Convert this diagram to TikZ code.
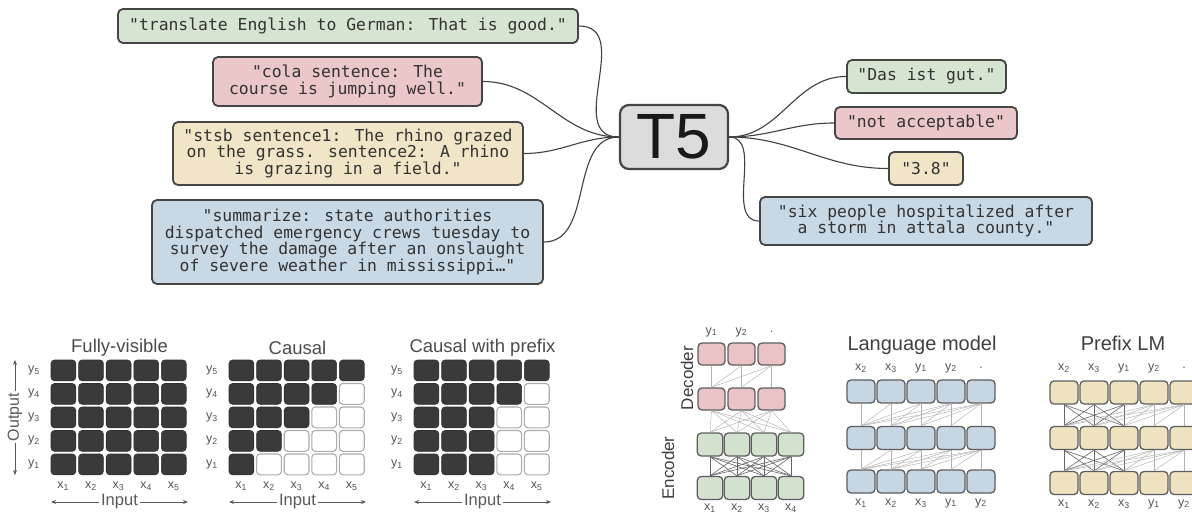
\documentclass[tikz,border=0pt]{standalone}
\usepackage{fontspec}
\setmainfont{Liberation Sans}
\newfontfamily\monof{DejaVu Sans Mono}
\usetikzlibrary{arrows.meta}
\definecolor{bline}{HTML}{454545}
\definecolor{tgreen}{HTML}{D6E4D2}
\definecolor{tpink}{HTML}{EBC7C9}
\definecolor{tyellow}{HTML}{F0E5C6}
\definecolor{tblue}{HTML}{C9D8E5}
\definecolor{tgray}{HTML}{DCDCDC}
\definecolor{txt}{HTML}{333333}
\definecolor{dcell}{HTML}{3A3A3A}
\definecolor{lbl}{HTML}{555555}
\definecolor{abline}{HTML}{5E5E5E}
\definecolor{agreen}{HTML}{D3E2CF}
\definecolor{apink}{HTML}{E9C3C6}
\definecolor{ablue}{HTML}{C8D6E3}
\definecolor{ayellow}{HTML}{EEE2C0}
\begin{document}
\begin{tikzpicture}[x=1pt,y=-1pt,
  tbox/.style={draw=bline, line width=1.8pt, rounded corners=5pt, text=txt, align=center, inner sep=0pt,
    font=\monof\fontsize{16.4}{16.8}\selectfont},
  conn/.style={draw=black!75, line width=1.1pt},
  wcell/.style={draw=gray!65, fill=white, line width=1.1pt, rounded corners=3.5pt},
  dcellst/.style={fill=dcell, draw=dcell!80!black, line width=0.6pt, rounded corners=3.5pt},
  lab/.style={text=lbl, font=\fontsize{12.5}{12.5}\selectfont, inner sep=0pt},
  ttl/.style={text=black!70, font=\fontsize{18.5}{18.5}\selectfont, inner sep=0pt},
  ttlb/.style={text=black!75, font=\fontsize{20}{20}\selectfont, inner sep=0pt},
  dblarr/.style={{Stealth[length=5pt,width=4pt]}-{Stealth[length=5pt,width=4pt]}, draw=black!65, line width=0.9pt},
  archbox/.style={draw=abline, line width=1.3pt, rounded corners=4pt, minimum width=27pt, minimum height=22pt, inner sep=0pt},
  attn/.style={draw=gray!60, line width=0.45pt},
  attnd/.style={draw=black!60, line width=0.6pt}
]
\useasboundingbox (0,0) rectangle (1192,516);
\fill[white] (0,0) rectangle (1192,516);

% ---------------- top: T5 task diagram ----------------
\node[tbox, fill=tgreen, minimum width=460pt, minimum height=34pt] (in1) at (348,26)
  {"translate English to German: That is good."};
\node[tbox, fill=tpink, minimum width=269pt, minimum height=49pt] (in2) at (347.5,81.5)
  {"cola sentence: The\\course is jumping well."};
\node[tbox, fill=tyellow, minimum width=350pt, minimum height=63pt] (in3) at (348,153.5)
  {"stsb sentence1: The rhino grazed\\on the grass. sentence2: A rhino\\is grazing in a field."};
\node[tbox, fill=tblue, minimum width=391pt, minimum height=84pt] (in4) at (347.5,242)
  {"summarize: state authorities\\dispatched emergency crews tuesday to\\survey the damage after an onslaught\\of severe weather in mississippi…"};

\node[tbox, fill=tgreen, minimum width=159pt, minimum height=33pt] (out1) at (926.5,76.5) {"Das ist gut."};
\node[tbox, fill=tpink, minimum width=182pt, minimum height=32pt] (out2) at (926,123) {"not acceptable"};
\node[tbox, fill=tyellow, minimum width=74pt, minimum height=33pt] (out3) at (926,168.5) {"3.8"};
\node[tbox, fill=tblue, minimum width=332pt, minimum height=48pt] (out4) at (926,221)
  {"six people hospitalized after\\a storm in attala county."};

\node[tbox, fill=tgray, minimum width=108pt, minimum height=64pt, rounded corners=9pt, line width=2.2pt,
  font=\fontsize{64}{64}\selectfont, text=black!90] (t5) at (674,137) {T5};

\draw[conn] (in1.east) to[out=0,in=180,looseness=1.2] (t5.west);
\draw[conn] (in2.east) to[out=0,in=180] (t5.west);
\draw[conn] (in3.east) to[out=0,in=180] (t5.west);
\draw[conn] (in4.east) to[out=0,in=180] (t5.west);
\draw[conn] (t5.east) to[out=0,in=180] (out1.west);
\draw[conn] (t5.east) to[out=0,in=180] (out2.west);
\draw[conn] (t5.east) to[out=0,in=180] (out3.west);
\draw[conn] (t5.east) to[out=0,in=180] (out4.west);

% ---------------- bottom left: attention masks ----------------
\foreach \xo/\mn [count=\m] in {51/5,229/1,414/3}{
  \foreach \r in {1,...,5}{
    \pgfmathtruncatemacro\nd{max(6-\r,\mn)}
    \pgfmathtruncatemacro\k{6-\r}
    \pgfmathsetmacro\cy{360+(\r-1)*23.5}
    \node[lab] (m\m y\k) at ({\xo-17},{\cy+10.25}) {y\textsubscript{\k}};
    \foreach \c in {1,...,5}{
      \pgfmathsetmacro\cx{\xo+(\c-1)*27.6}
      \ifnum\c>\nd\relax
        \draw[wcell] (\cx,\cy) rectangle ++(24.8,20.8);
      \else
        \draw[dcellst] (\cx,\cy) rectangle ++(24.8,20.8);
      \fi
    }
  }
  \foreach \c in {1,...,5}{
    \pgfmathsetmacro\lx{\xo+12.3+(\c-1)*27.6}
    \node[lab] (m\m x\c) at (\lx,486) {x\textsubscript{\c}};
  }
  \pgfmathsetmacro\xr{\xo+137}
  \pgfmathsetmacro\xm{\xo+68.5}
  \coordinate (inL\m) at (\xo,502);
  \coordinate (inR\m) at (\xr,502);
  \draw[dblarr] (inL\m) -- (inR\m);
  \node[fill=white, text=black!65, font=\fontsize{16.5}{16.5}\selectfont, inner sep=2pt] (inp\m) at (\xm,502) {Input};
}
\node[ttl] (tt1) at (119.5,348) {Fully-visible};
\node[ttl] (tt2) at (297.5,348) {Causal};
\node[ttl] (tt3) at (482.5,348) {Causal with prefix};
\coordinate (oT) at (15,360);
\coordinate (oB) at (15,475);
\draw[dblarr] (oT) -- (oB);
\node[fill=white, rotate=90, text=black!65, font=\fontsize{16}{16}\selectfont, inner sep=2pt] (outp) at (15,417) {Output};

% ---------------- bottom right: architectures ----------------
% Encoder-decoder
\foreach \i in {1,...,3}{
  \pgfmathsetmacro\px{711.5+30*(\i-1)}
  \node[archbox, fill=apink] (dt\i) at (\px,354) {};
  \node[archbox, fill=apink] (dl\i) at (\px,399) {};
}
\foreach \i in {1,...,4}{
  \pgfmathsetmacro\px{710+27*(\i-1)}
  \node[archbox, fill=agreen, minimum width=25.5pt, minimum height=23pt] (et\i) at (\px,444.5) {};
  \node[archbox, fill=agreen, minimum width=25.5pt, minimum height=23pt] (eb\i) at (\px,488) {};
  \node[lab] (ex\i) at (\px,508) {x\textsubscript{\i}};
}
\foreach \i in {1,...,4}{\foreach \j in {1,...,4}{\draw[attnd] (eb\i.north) -- (et\j.south);}}
\foreach \i in {1,...,4}{\foreach \j in {1,...,3}{\draw[attn] (et\i.north) -- (dl\j.south);}}
\foreach \j in {1,...,3}{\foreach \i in {1,...,\j}{\draw[attn] (dl\i.north) -- (dt\j.south);}}
\node[lab] (dy1) at (711.5,332) {y\textsubscript{1}};
\node[lab] (dy2) at (741.5,332) {y\textsubscript{2}};
\node[lab] (dy3) at (771.5,332) {.};
\node[rotate=90, text=black!75, font=\fontsize{17}{17}\selectfont, inner sep=0pt] (declab) at (687,378) {Decoder};
\node[rotate=90, text=black!75, font=\fontsize{17}{17}\selectfont, inner sep=0pt] (enclab) at (668,468) {Encoder};

% Language model
\foreach \i in {1,...,5}{
  \pgfmathsetmacro\px{861+30*(\i-1)}
  \node[archbox, fill=ablue, minimum width=28pt, minimum height=23pt] (lt\i) at (\px,391.5) {};
  \node[archbox, fill=ablue, minimum width=28pt, minimum height=23pt] (lm\i) at (\px,438) {};
  \node[archbox, fill=ablue, minimum width=28pt, minimum height=23pt] (lb\i) at (\px,481.5) {};
}
\foreach \j in {1,...,5}{\foreach \i in {1,...,\j}{
  \draw[attn] (lm\i.north) -- (lt\j.south);
  \draw[attn] (lb\i.north) -- (lm\j.south);
}}
\node[ttlb] (lmt) at (922,345) {Language model};
\foreach \t [count=\i] in {x\textsubscript{2},x\textsubscript{3},y\textsubscript{1},y\textsubscript{2},.}{
  \pgfmathsetmacro\px{861+30*(\i-1)}
  \node[lab] (lla\i) at (\px,368) {\t};
}
\foreach \t [count=\i] in {x\textsubscript{1},x\textsubscript{2},x\textsubscript{3},y\textsubscript{1},y\textsubscript{2}}{
  \pgfmathsetmacro\px{861+30*(\i-1)}
  \node[lab] (llb\i) at (\px,503) {\t};
}

% Prefix LM
\foreach \i in {1,...,5}{
  \pgfmathsetmacro\px{1064+30*(\i-1)}
  \node[archbox, fill=ayellow, minimum width=28pt, minimum height=23pt] (pt\i) at (\px,392.5) {};
  \node[archbox, fill=ayellow, minimum width=28pt, minimum height=23pt] (pm\i) at (\px,438) {};
  \node[archbox, fill=ayellow, minimum width=28pt, minimum height=23pt] (pb\i) at (\px,483) {};
}
\foreach \j in {1,...,3}{\foreach \i in {1,...,3}{
  \draw[attnd] (pm\i.north) -- (pt\j.south);
  \draw[attnd] (pb\i.north) -- (pm\j.south);
}}
\foreach \j in {4,5}{\foreach \i in {1,...,\j}{
  \draw[attn] (pm\i.north) -- (pt\j.south);
  \draw[attn] (pb\i.north) -- (pm\j.south);
}}
\node[ttlb] (plt) at (1123,343) {Prefix LM};
\foreach \t [count=\i] in {x\textsubscript{2},x\textsubscript{3},y\textsubscript{1},y\textsubscript{2},.}{
  \pgfmathsetmacro\px{1064+30*(\i-1)}
  \node[lab] (pla\i) at (\px,368) {\t};
}
\foreach \t [count=\i] in {x\textsubscript{1},x\textsubscript{2},x\textsubscript{3},y\textsubscript{1},y\textsubscript{2}}{
  \pgfmathsetmacro\px{1064+30*(\i-1)}
  \node[lab] (plb\i) at (\px,504) {\t};
}
\end{tikzpicture}
\end{document}
